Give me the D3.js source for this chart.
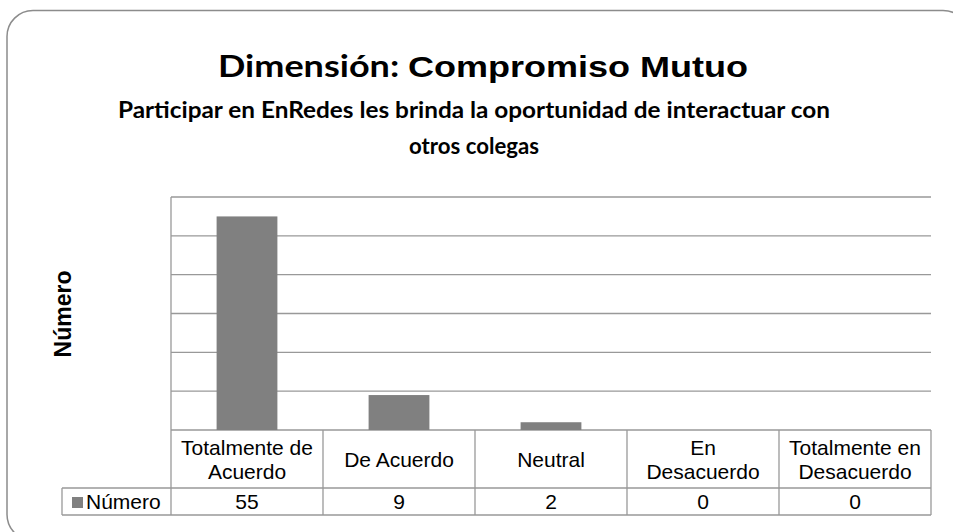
<!DOCTYPE html>
<html>
  <head>
    <script src="https://cdnjs.cloudflare.com/ajax/libs/d3/7.8.5/d3.min.js"></script>
    <style>
      body {
        margin: 0;
        overflow: hidden;
        background: #ffffff;
      }
      .cell-text {
        font-family: "Liberation Sans", Arial, sans-serif;
        font-size: 21px;
        fill: #000;
      }
    </style>
  </head>
  <body>
    <div id="canvas"></div>
    <script>
      // データ
      const categories = [
        "Totalmente de Acuerdo",
        "De Acuerdo",
        "Neutral",
        "En Desacuerdo",
        "Totalmente en Desacuerdo",
      ];
      const headerLines = [
        ["Totalmente de", "Acuerdo"],
        ["De Acuerdo"],
        ["Neutral"],
        ["En", "Desacuerdo"],
        ["Totalmente en", "Desacuerdo"],
      ];
      const numero = [55, 9, 2, 0, 0];
      const yTicks = [0, 10, 20, 30, 40, 50, 60];
      const seriesName = "Número";

      const width = 953;
      const height = 532;

      // 描画エリアの位置
      const plot = { left: 171, right: 931, top: 197, bottom: 430 };
      const headerBottom = 488;
      const tableBottom = 515;
      const legendLeft = 62;
      const gridColor = "#999999";
      const barColor = "#808080";

      const svg = d3
        .select("#canvas")
        .append("svg")
        .attr("width", width)
        .attr("height", height);

      // 外枠（角丸）
      svg
        .append("rect")
        .attr("x", 7)
        .attr("y", 10.5)
        .attr("width", 962)
        .attr("height", 530)
        .attr("rx", 26)
        .attr("fill", "#fff")
        .attr("stroke", "#8c8c8c")
        .attr("stroke-width", 1.5);

      // タイトル
      const title = svg
        .append("text")
        .attr("x", 483)
        .attr("y", 77)
        .attr("text-anchor", "middle")
        .attr("textLength", 530)
        .attr("lengthAdjust", "spacingAndGlyphs")
        .style("font-weight", "bold")
        .style("font-size", "30px");
      title
        .append("tspan")
        .style("font-family", "Lato, sans-serif")
        .text("Dimensión: ");
      title
        .append("tspan")
        .style("font-family", "'Liberation Sans', Arial, sans-serif")
        .text("Compromiso Mutuo");

      // サブタイトル（2行）
      const subtitle = [
        { text: "Participar en EnRedes les brinda la oportunidad de interactuar con", y: 118, w: 712 },
        { text: "otros colegas", y: 154, w: 130 },
      ];
      svg
        .selectAll(".subtitle")
        .data(subtitle)
        .enter()
        .append("text")
        .attr("class", "subtitle")
        .attr("x", 474)
        .attr("y", (d) => d.y)
        .attr("text-anchor", "middle")
        .attr("textLength", (d) => d.w)
        .attr("lengthAdjust", "spacingAndGlyphs")
        .style("font-family", "Lato, sans-serif")
        .style("font-weight", "bold")
        .style("font-size", "22px")
        .text((d) => d.text);

      // 軸ラベル
      svg
        .append("text")
        .attr("transform", "translate(71,314) rotate(-90)")
        .attr("text-anchor", "middle")
        .style("font-family", "'Liberation Sans', Arial, sans-serif")
        .style("font-weight", "bold")
        .style("font-size", "23px")
        .text(seriesName);

      // スケール
      const x = d3
        .scaleBand()
        .domain(categories)
        .range([plot.left, plot.right])
        .paddingInner(0.6)
        .paddingOuter(0.3);
      const y = d3
        .scaleLinear()
        .domain([0, 60])
        .range([plot.bottom, plot.top]);

      // 横グリッド線
      svg
        .append("g")
        .selectAll("line")
        .data(yTicks)
        .enter()
        .append("line")
        .attr("x1", plot.left)
        .attr("x2", plot.right)
        .attr("y1", (d) => y(d))
        .attr("y2", (d) => y(d))
        .attr("stroke", gridColor)
        .attr("stroke-width", 1.3);

      // 棒
      svg
        .append("g")
        .selectAll("rect")
        .data(numero)
        .enter()
        .append("rect")
        .attr("x", (d, i) => x(categories[i]))
        .attr("y", (d) => y(d))
        .attr("width", x.bandwidth())
        .attr("height", (d) => y(0) - y(d))
        .attr("fill", barColor);

      // 縦軸の線
      svg
        .append("line")
        .attr("x1", plot.left)
        .attr("x2", plot.left)
        .attr("y1", plot.top)
        .attr("y2", tableBottom)
        .attr("stroke", gridColor)
        .attr("stroke-width", 1.3);

      // データテーブル
      const step = x.step();
      const colEdge = (i) => x(categories[i]) - (x.step() - x.bandwidth()) / 2;
      const table = svg.append("g");

      // 縦の区切り線
      table
        .selectAll(".vline")
        .data(d3.range(1, categories.length + 1))
        .enter()
        .append("line")
        .attr("x1", (i) => colEdge(0) + i * step)
        .attr("x2", (i) => colEdge(0) + i * step)
        .attr("y1", plot.bottom)
        .attr("y2", tableBottom)
        .attr("stroke", gridColor)
        .attr("stroke-width", 1.3);

      // 横の区切り線
      const hLines = [
        { y: headerBottom, x1: legendLeft },
        { y: tableBottom, x1: legendLeft },
      ];
      table
        .selectAll(".hline")
        .data(hLines)
        .enter()
        .append("line")
        .attr("x1", (d) => d.x1)
        .attr("x2", plot.right)
        .attr("y1", (d) => d.y)
        .attr("y2", (d) => d.y)
        .attr("stroke", gridColor)
        .attr("stroke-width", 1.3);

      // 凡例セルの左線
      table
        .append("line")
        .attr("x1", legendLeft)
        .attr("x2", legendLeft)
        .attr("y1", headerBottom)
        .attr("y2", tableBottom)
        .attr("stroke", gridColor)
        .attr("stroke-width", 1.3);

      // 見出し
      const headerMid = (plot.bottom + headerBottom) / 2;
      headerLines.forEach((lines, i) => {
        const cx = x(categories[i]) + x.bandwidth() / 2;
        const t = table
          .append("text")
          .attr("class", "cell-text")
          .attr("text-anchor", "middle");
        lines.forEach((line, j) => {
          t.append("tspan")
            .attr("x", cx)
            .attr("y", headerMid + 7.5 + (j - (lines.length - 1) / 2) * 24)
            .text(line);
        });
      });

      // 数値
      const valueY = (headerBottom + tableBottom) / 2 + 7.5;
      table
        .selectAll(".val")
        .data(numero)
        .enter()
        .append("text")
        .attr("class", "cell-text")
        .attr("x", (d, i) => x(categories[i]) + x.bandwidth() / 2)
        .attr("y", valueY)
        .attr("text-anchor", "middle")
        .text((d) => d);

      // 凡例
      table
        .append("rect")
        .attr("x", 72)
        .attr("y", 497)
        .attr("width", 11)
        .attr("height", 11)
        .attr("fill", barColor);
      table
        .append("text")
        .attr("class", "cell-text")
        .attr("x", 86)
        .attr("y", valueY)
        .text(seriesName);
    </script>
  </body>
</html>
